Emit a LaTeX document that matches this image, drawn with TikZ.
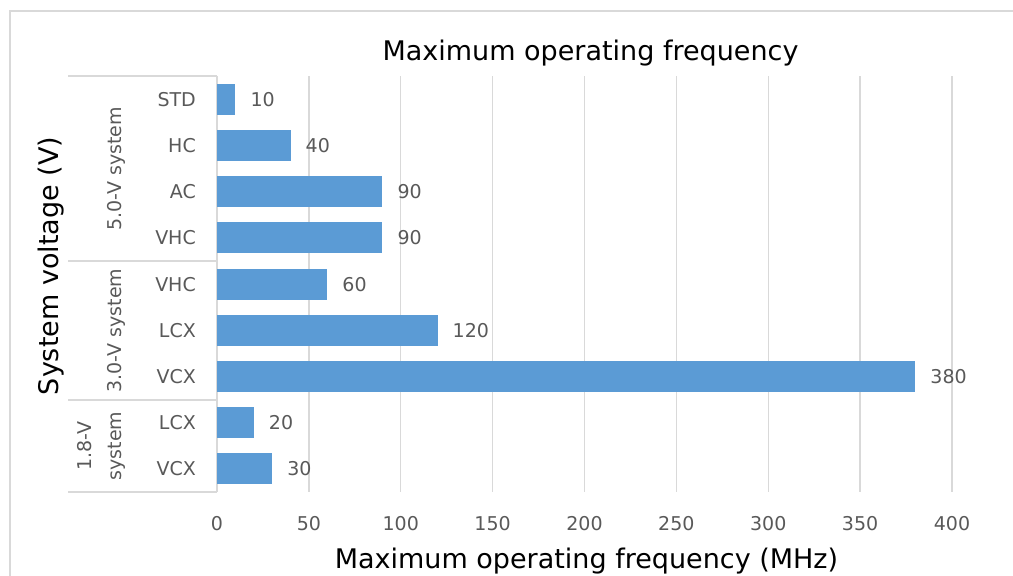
\documentclass[tikz,border=0pt]{standalone}
\usepackage{fontspec}
\setmainfont{DejaVu Sans}
\definecolor{barc}{HTML}{5B9BD5}
\definecolor{txtg}{HTML}{595959}
\definecolor{gridc}{HTML}{D9D9D9}
\begin{document}
\begin{tikzpicture}[x=1pt,y=-1pt,
  gridline/.style={draw=gridc,line width=1.3pt},
  frameline/.style={draw=gridc,line width=2pt},
  small/.style={inner sep=0pt,text=txtg,font=\fontsize{19}{23}\selectfont},
  big/.style={inner sep=0pt,text=black,font=\fontsize{27}{32}\selectfont},
  barfill/.style={fill=barc}]
\clip (0,0) rectangle (1013,576);
\fill[white] (0,0) rectangle (1013,576);
% outer frame (extends beyond the visible area)
\draw[frameline] (10,11) rectangle (1040,600);
% grid lines and tick labels
\foreach \t in {50,100,...,400}{
  \pgfmathsetmacro\gx{217+1.8375*\t}
  \draw[gridline] (\gx,76) -- (\gx,492);
}
\foreach \t in {0,50,...,400}{
  \pgfmathsetmacro\gx{217+1.8375*\t}
  \node[small,anchor=base] (tick\t) at (\gx,530) {\t};
}
% category table
\draw[gridline] (68,76) -- (217,76);
\draw[gridline] (68,261) -- (217,261);
\draw[gridline] (68,400) -- (217,400);
\draw[gridline] (68,492) -- (217,492);
\draw[gridline] (217,76) -- (217,492);
% bars, categories and values
\foreach \i/\lab/\v in {0/STD/10,1/HC/40,2/AC/90,3/VHC/90,4/VHC/60,5/LCX/120,6/VCX/380,7/LCX/20,8/VCX/30}{
  \pgfmathsetmacro\yc{76+46.222*(\i+0.5)}
  \pgfmathsetmacro\xe{217+1.8375*\v}
  \fill[barfill] (217,\yc-15.5) rectangle (\xe,\yc+15.5);
  \node[small,anchor=base east] (cat\i) at (196,\yc+7) {\lab};
  \node[small,anchor=base west] (val\i) at (\xe+15,\yc+7) {\v};
}
% group labels
\node[small,rotate=90,anchor=base] (g50) at (121,169) {5.0-V system};
\node[small,rotate=90,anchor=base] (g30) at (121,330.5) {3.0-V system};
\node[small,rotate=90,anchor=center,align=center,font=\fontsize{19}{30}\selectfont] (g18) at (101,446) {1.8-V\\system};
% titles
\node[big,anchor=base] (title) at (590.5,60) {Maximum operating frequency};
\node[big,anchor=base] (xtitle) at (586.5,568) {Maximum operating frequency (MHz)};
\node[big,rotate=90,anchor=base] (ytitle) at (58,266) {System voltage (V)};
\end{tikzpicture}
\end{document}
